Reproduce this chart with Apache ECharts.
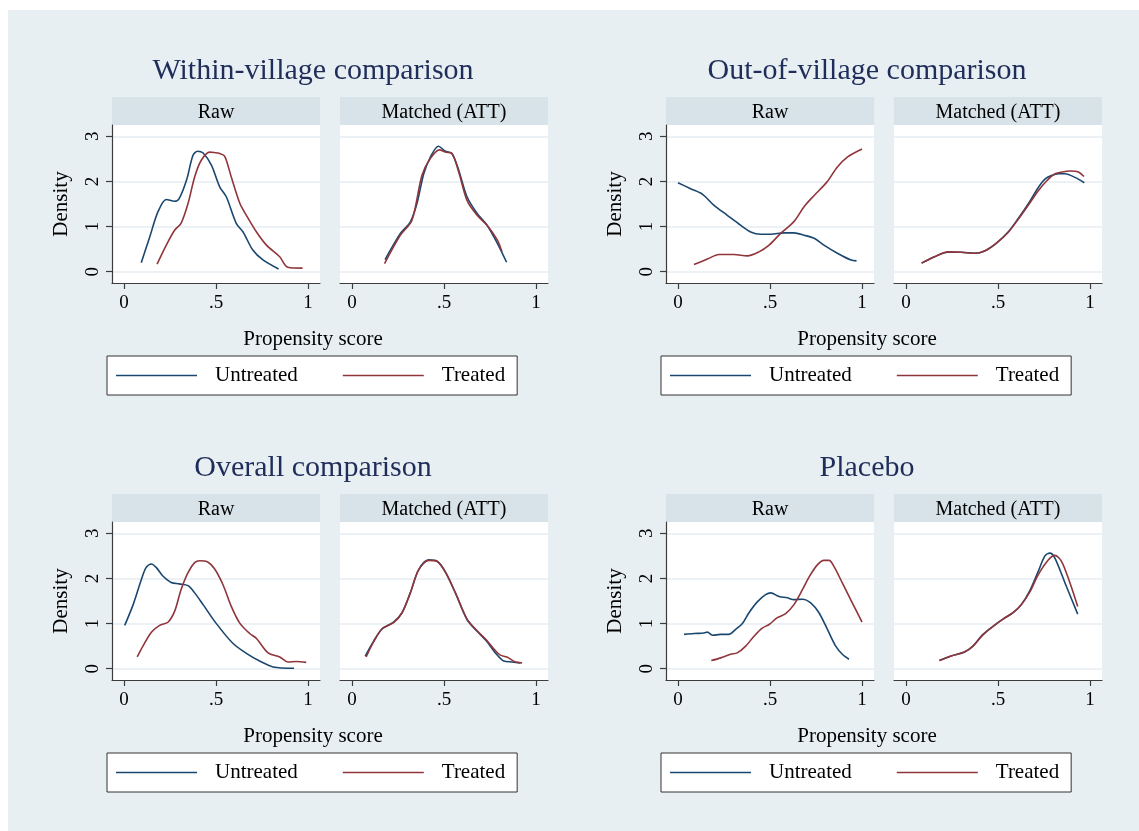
<!DOCTYPE html>
<html><head><meta charset="utf-8">
<script src="https://cdn.jsdelivr.net/npm/echarts@6/dist/echarts.min.js"></script>
<style>html,body{margin:0;padding:0;background:#fff}#c{position:absolute;left:8px;top:10px;width:1131px;height:821px}</style>
</head><body><div id="c"></div>
<script>
const titles = ['Within-village comparison', 'Out-of-village comparison', 'Overall comparison', 'Placebo'];
const panelLabels = ['Raw', 'Matched (ATT)'];
const seriesNames = ['Untreated', 'Treated'];
const xTicks = [0, 0.5, 1];
const xTickLabels = ['0', '.5', '1'];
const yTicks = [0, 1, 2, 3];
const xAxisTitle = 'Propensity score';
const yAxisTitle = 'Density';

const withinRawUntreated = [[0.094,0.2],[0.14,0.77],[0.185,1.33],[0.23,1.6],[0.275,1.56],[0.30,1.62],[0.34,2.03],[0.375,2.58],[0.40,2.67],[0.43,2.63],[0.475,2.36],[0.52,1.88],[0.556,1.66],[0.61,1.07],[0.647,0.88],[0.70,0.48],[0.755,0.26],[0.84,0.06]];
const withinRawTreated = [[0.18,0.17],[0.23,0.59],[0.275,0.92],[0.31,1.07],[0.348,1.51],[0.384,2.10],[0.42,2.47],[0.466,2.65],[0.49,2.64],[0.52,2.62],[0.547,2.56],[0.583,2.10],[0.63,1.51],[0.665,1.25],[0.72,0.88],[0.774,0.59],[0.846,0.33],[0.89,0.10],[0.97,0.08]];
const withinMatchedUntreated = [[0.18,0.27],[0.263,0.85],[0.317,1.1],[0.353,1.51],[0.39,2.17],[0.426,2.54],[0.47,2.78],[0.507,2.67],[0.543,2.62],[0.58,2.25],[0.625,1.66],[0.68,1.29],[0.734,1.03],[0.79,0.63],[0.84,0.21]];
const withinMatchedTreated = [[0.177,0.18],[0.263,0.81],[0.326,1.14],[0.38,2.13],[0.426,2.51],[0.476,2.70],[0.507,2.65],[0.543,2.62],[0.58,2.21],[0.625,1.58],[0.68,1.25],[0.734,1.03],[0.79,0.70],[0.815,0.44]];

const outRawUntreated = [[0.0,1.97],[0.069,1.84],[0.132,1.72],[0.196,1.47],[0.268,1.25],[0.34,1.03],[0.395,0.88],[0.45,0.83],[0.504,0.83],[0.576,0.86],[0.63,0.86],[0.685,0.81],[0.74,0.74],[0.793,0.59],[0.866,0.41],[0.94,0.26],[0.97,0.24]];
const outRawTreated = [[0.087,0.16],[0.16,0.28],[0.223,0.38],[0.304,0.38],[0.377,0.35],[0.44,0.44],[0.495,0.59],[0.558,0.85],[0.63,1.11],[0.685,1.44],[0.74,1.69],[0.81,1.99],[0.866,2.32],[0.92,2.54],[1.0,2.72]];
const outMatchedUntreated = [[0.085,0.19],[0.155,0.33],[0.227,0.43],[0.30,0.43],[0.373,0.41],[0.427,0.46],[0.49,0.63],[0.555,0.88],[0.61,1.18],[0.664,1.50],[0.718,1.86],[0.755,2.05],[0.79,2.13],[0.83,2.17],[0.864,2.17],[0.918,2.09],[0.969,1.97]];
const outMatchedTreated = [[0.085,0.19],[0.155,0.33],[0.227,0.44],[0.30,0.43],[0.373,0.41],[0.427,0.46],[0.49,0.63],[0.555,0.87],[0.61,1.16],[0.664,1.47],[0.718,1.79],[0.764,2.01],[0.81,2.17],[0.85,2.21],[0.89,2.23],[0.936,2.21],[0.967,2.11]];

const overallRawUntreated = [[0.004,0.96],[0.05,1.42],[0.094,1.97],[0.12,2.24],[0.149,2.32],[0.176,2.24],[0.21,2.06],[0.257,1.91],[0.30,1.88],[0.348,1.84],[0.384,1.68],[0.43,1.42],[0.50,1.01],[0.59,0.57],[0.665,0.34],[0.737,0.17],[0.81,0.04],[0.924,0.01]];
const overallRawTreated = [[0.072,0.26],[0.103,0.50],[0.149,0.81],[0.194,0.96],[0.239,1.03],[0.275,1.27],[0.31,1.75],[0.348,2.13],[0.384,2.35],[0.411,2.39],[0.457,2.36],[0.493,2.21],[0.538,1.86],[0.583,1.38],[0.629,1.01],[0.683,0.78],[0.72,0.67],[0.783,0.35],[0.846,0.26],[0.89,0.15],[0.937,0.16],[0.99,0.14]];
const overallMatchedUntreated = [[0.072,0.28],[0.118,0.61],[0.163,0.88],[0.226,1.03],[0.272,1.24],[0.317,1.68],[0.362,2.19],[0.417,2.41],[0.462,2.38],[0.507,2.15],[0.562,1.68],[0.625,1.09],[0.68,0.83],[0.734,0.60],[0.779,0.35],[0.824,0.17],[0.87,0.15],[0.915,0.13]];
const overallMatchedTreated = [[0.077,0.26],[0.118,0.60],[0.163,0.88],[0.226,1.02],[0.272,1.24],[0.317,1.68],[0.362,2.19],[0.417,2.40],[0.462,2.38],[0.507,2.14],[0.562,1.68],[0.625,1.10],[0.68,0.84],[0.734,0.62],[0.779,0.40],[0.806,0.30],[0.842,0.26],[0.888,0.15],[0.924,0.13]];

const placeboRawUntreated = [[0.033,0.76],[0.087,0.78],[0.141,0.79],[0.16,0.81],[0.187,0.74],[0.232,0.76],[0.277,0.76],[0.313,0.87],[0.35,1.0],[0.386,1.24],[0.431,1.48],[0.476,1.64],[0.504,1.68],[0.549,1.60],[0.594,1.57],[0.63,1.53],[0.676,1.54],[0.721,1.46],[0.766,1.24],[0.812,0.87],[0.857,0.50],[0.893,0.32],[0.929,0.21]];
const placeboRawTreated = [[0.181,0.18],[0.232,0.24],[0.286,0.32],[0.322,0.35],[0.368,0.50],[0.413,0.72],[0.458,0.90],[0.495,0.98],[0.54,1.13],[0.585,1.22],[0.63,1.42],[0.676,1.75],[0.712,2.03],[0.757,2.30],[0.793,2.40],[0.821,2.40],[0.848,2.26],[0.893,1.90],[0.947,1.46],[1.0,1.03]];
const placeboMatchedUntreated = [[0.182,0.18],[0.245,0.28],[0.318,0.37],[0.364,0.50],[0.418,0.76],[0.473,0.94],[0.527,1.10],[0.582,1.24],[0.627,1.42],[0.673,1.73],[0.718,2.15],[0.755,2.50],[0.782,2.56],[0.809,2.45],[0.864,1.90],[0.933,1.21]];
const placeboMatchedTreated = [[0.182,0.18],[0.245,0.28],[0.318,0.37],[0.364,0.50],[0.418,0.75],[0.473,0.94],[0.527,1.10],[0.582,1.24],[0.627,1.42],[0.673,1.70],[0.718,2.08],[0.773,2.41],[0.809,2.51],[0.845,2.38],[0.891,1.90],[0.933,1.38]];

const panelData = [
  [[withinRawUntreated, withinRawTreated], [withinMatchedUntreated, withinMatchedTreated]],
  [[outRawUntreated, outRawTreated], [outMatchedUntreated, outMatchedTreated]],
  [[overallRawUntreated, overallRawTreated], [overallMatchedUntreated, overallMatchedTreated]],
  [[placeboRawUntreated, placeboRawTreated], [placeboMatchedUntreated, placeboMatchedTreated]]
];

// ---------- layout (page coords, chart div offset 8,10) ----------
const OX = 8, OY = 10;
const COLX = [0, 554], ROWY = [0, 397];
const PANEL_LEFT = [112, 340], PANEL_W = 208, PANEL_TOP = 125, PANEL_H = 158, STRIP_H = 28;
const FONT = "'Liberation Serif', 'Times New Roman', serif";
const COLORS = ['#1a476f', '#90353b'];
const AXIS_COLOR = '#3c3c3c';
const GRID_LINE = '#e4ecf0';

const grids = [], xAxes = [], yAxes = [], series = [], graphics = [], legends = [];
let idx = 0;
titles.forEach((t, s) => {
  const c = s % 2, r = Math.floor(s / 2);
  const dx = COLX[c], dy = ROWY[r];
  graphics.push({type: 'text', x: 313 + dx - OX, y: 71 + dy - OY, style: {text: t, fill: '#1f2d5a', fontSize: 30, fontFamily: FONT, align: 'center', verticalAlign: 'middle'}});
  graphics.push({type: 'text', x: 313 + dx - OX, y: 339 + dy - OY, style: {text: xAxisTitle, fill: '#000', fontSize: 21, fontFamily: FONT, align: 'center', verticalAlign: 'middle'}});
  legends.push({
    left: 107 + dx - OX, top: 356 + dy - OY, orient: 'horizontal', data: seriesNames,
    icon: 'rect', itemWidth: 81, itemHeight: 1.5, itemGap: 45,
    padding: [9, 12, 9, 9], borderColor: '#333', borderWidth: 1, backgroundColor: '#fff', borderRadius: 0,
    textStyle: {fontFamily: FONT, fontSize: 21, color: '#000', padding: [4, 0, 0, 13]},
    selectedMode: false
  });
  for (let p = 0; p < 2; p++) {
    const left = PANEL_LEFT[p] + dx, top = PANEL_TOP + dy;
    grids.push({left: left - OX, top: top - OY, width: PANEL_W, height: PANEL_H, show: true, backgroundColor: '#fff', borderWidth: 0, containLabel: false});
    graphics.push({type: 'rect', shape: {x: left - OX, y: top - STRIP_H - OY, width: PANEL_W, height: STRIP_H}, style: {fill: '#d8e3e9'}});
    graphics.push({type: 'text', x: left + PANEL_W / 2 - OX, y: top - STRIP_H / 2 + 1.5 - OY, style: {text: panelLabels[p], fill: '#000', fontSize: 20, fontFamily: FONT, align: 'center', verticalAlign: 'middle'}});
    xAxes.push({
      type: 'value', gridIndex: idx, min: -0.065, max: 1.065,
      axisLine: {show: true, onZero: false, lineStyle: {color: AXIS_COLOR, width: 1.2}},
      axisTick: {show: true, customValues: xTicks, length: 6, lineStyle: {color: AXIS_COLOR, width: 1.2}},
      axisLabel: {show: true, customValues: xTicks, margin: 11, fontFamily: FONT, fontSize: 19, color: '#000',
        formatter: v => { const k = xTicks.findIndex(t => Math.abs(t - v) < 1e-9); return k >= 0 ? xTickLabels[k] : ''; }},
      splitLine: {show: false}
    });
    const raw = p === 0;
    yAxes.push({
      type: 'value', gridIndex: idx, min: -0.25, max: 3.25,
      name: raw ? yAxisTitle : '', nameLocation: 'middle', nameRotate: 90, nameGap: 40,
      nameTextStyle: {fontFamily: FONT, fontSize: 21, color: '#000'},
      axisLine: {show: raw, onZero: false, lineStyle: {color: AXIS_COLOR, width: 1.2}},
      axisTick: {show: raw, customValues: yTicks, length: 6, lineStyle: {color: AXIS_COLOR, width: 1.2}},
      axisLabel: {show: raw, customValues: yTicks, rotate: 90, margin: 9, fontFamily: FONT, fontSize: 19, color: '#000'},
      splitLine: {show: true, lineStyle: {color: GRID_LINE, width: 1.5}}
    });
    panelData[s][p].forEach((d, k) => {
      series.push({
        type: 'line', name: seriesNames[k], xAxisIndex: idx, yAxisIndex: idx, data: d,
        showSymbol: false, symbol: 'none', smooth: 0.3, z: 3 + k,
        lineStyle: {color: COLORS[k], width: 1.6}, itemStyle: {color: COLORS[k]}
      });
    });
    idx++;
  }
});

const chart = echarts.init(document.getElementById('c'), null, {renderer: 'canvas'});
chart.setOption({
  backgroundColor: '#e8eff2',
  animation: false,
  grid: grids, xAxis: xAxes, yAxis: yAxes, series: series,
  legend: legends,
  graphic: {elements: graphics}
});
</script>
</body></html>
